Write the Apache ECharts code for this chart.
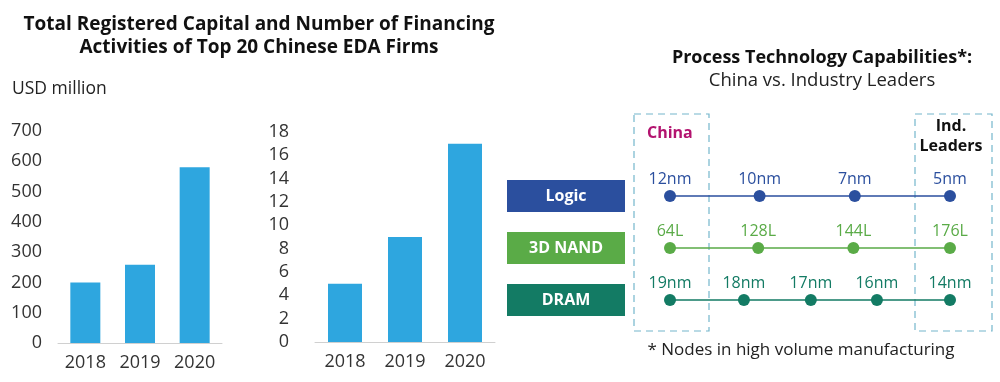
<!DOCTYPE html>
<html><head><meta charset="utf-8">
<script src="https://cdn.jsdelivr.net/npm/echarts@6/dist/echarts.min.js"></script>
<style>html,body{margin:0;padding:0;background:#fff}#c{width:1000px;height:382px}</style>
</head><body><div id="c"></div>
<script>
var years = ['2018', '2019', '2020'];
var capital = [200, 258, 580];
var financing = [5, 9, 17];
var techRows = ['Logic', '3D NAND', 'DRAM'];
var logicLabels = ['12nm', '10nm', '7nm', '5nm'];
var logicPos = [0, 0.32, 0.66, 1];
var nandLabels = ['64L', '128L', '144L', '176L'];
var nandPos = [0, 0.315, 0.655, 1];
var dramLabels = ['19nm', '18nm', '17nm', '16nm', '14nm'];
var dramPos = [0, 0.264, 0.503, 0.739, 1];

var FONT = 'Open Sans';
var BAR = '#2ea6df';
var rowColors = {'Logic': '#2b4f9e', '3D NAND': '#5aab47', 'DRAM': '#137b64'};
var labelColors = {'Logic': '#2b4f9e', '3D NAND': '#5aab47', 'DRAM': '#137b64'};

function rowData(pos, labels, row) {
  return pos.map(function (p, i) { return {value: [p, row], name: labels[i]}; });
}
function rowSeries(pos, labels, row) {
  return {
    type: 'line', xAxisIndex: 2, yAxisIndex: 2,
    data: rowData(pos, labels, row),
    symbol: 'circle', symbolSize: 12,
    lineStyle: {color: rowColors[row], width: 1.5},
    itemStyle: {color: rowColors[row]},
    label: {show: true, position: 'top', distance: 3, formatter: '{b}',
      color: labelColors[row], fontFamily: FONT, fontSize: 16},
    silent: true, animation: false, z: 3
  };
}

var chart = echarts.init(document.getElementById('c'));
var catAxisStyle = {
  axisLine: {lineStyle: {color: '#d0d0d0'}}, axisTick: {show: false},
  axisLabel: {color: '#333', fontFamily: FONT, fontSize: 18, margin: 11}
};
chart.setOption({
  animation: false,
  title: [
    {text: 'Total Registered Capital and Number of Financing\nActivities of Top 20 Chinese EDA Firms',
     left: 254, top: 8, textAlign: 'center',
     textStyle: {fontFamily: FONT, fontWeight: 'bold', fontSize: 19, lineHeight: 23, color: '#111'}},
    {text: 'USD million', left: 7, top: 75,
     textStyle: {fontFamily: FONT, fontWeight: 'normal', fontSize: 17.5, color: '#222'}},
    {text: 'Process Technology Capabilities*:', left: 817, top: 44, textAlign: 'center',
     textStyle: {fontFamily: FONT, fontWeight: 'bold', fontSize: 18, color: '#111'}},
    {text: 'China vs. Industry Leaders', left: 817, top: 66, textAlign: 'center',
     textStyle: {fontFamily: FONT, fontWeight: 'normal', fontSize: 18.5, color: '#222'}},
    {text: '* Nodes in high volume manufacturing', left: 796, top: 337, textAlign: 'center',
     textStyle: {fontFamily: FONT, fontWeight: 'normal', fontSize: 17, color: '#222'}}
  ],
  graphic: [
    {type: 'rect', shape: {x: 634, y: 114, width: 75, height: 217}, z: 1,
     style: {fill: 'none', stroke: '#74b6cc', lineWidth: 1.2, lineDash: [7, 5]}},
    {type: 'rect', shape: {x: 915, y: 114, width: 77, height: 217}, z: 1,
     style: {fill: 'none', stroke: '#74b6cc', lineWidth: 1.2, lineDash: [7, 5]}},
    {type: 'text', x: 647, y: 125, z: 5,
     style: {text: 'China', fill: '#b3136f', font: 'bold 16px "Open Sans"'}},
    {type: 'text', x: 951, y: 116, z: 5,
     style: {text: 'Ind.\nLeaders', fill: '#111', font: 'bold 16px "Open Sans"', textAlign: 'center', lineHeight: 20}}
  ],
  grid: [
    {left: 58, width: 164, top: 131, bottom: 39},
    {left: 315, width: 180, top: 132, bottom: 40},
    {left: 670, width: 280, top: 170, bottom: 56}
  ],
  xAxis: [
    Object.assign({type: 'category', gridIndex: 0, data: years}, catAxisStyle),
    Object.assign({type: 'category', gridIndex: 1, data: years}, catAxisStyle),
    {type: 'value', gridIndex: 2, min: 0, max: 1, show: false}
  ],
  yAxis: [
    {type: 'value', gridIndex: 0, min: 0, max: 700, interval: 100, splitLine: {show: false},
     axisLine: {show: false}, axisTick: {show: false},
     axisLabel: {color: '#333', fontFamily: FONT, fontSize: 18, margin: 16}},
    {type: 'value', gridIndex: 1, min: 0, max: 18, interval: 2, splitLine: {show: false},
     axisLine: {show: false}, axisTick: {show: false},
     axisLabel: {color: '#333', fontFamily: FONT, fontSize: 18, margin: 26}},
    {type: 'category', gridIndex: 2, data: techRows, inverse: true,
     axisLine: {show: false}, axisTick: {show: false}, splitLine: {show: false},
     axisLabel: {margin: 45, formatter: function (v) {
        var k = v === 'Logic' ? 'a' : (v === 'DRAM' ? 'c' : 'b');
        return '{' + k + '|' + v + '}';
      },
      rich: {
        a: {backgroundColor: rowColors['Logic'], color: '#fff', width: 118, height: 32, align: 'center', fontFamily: FONT, fontWeight: 'bold', fontSize: 16},
        b: {backgroundColor: rowColors['3D NAND'], color: '#fff', width: 118, height: 32, align: 'center', fontFamily: FONT, fontWeight: 'bold', fontSize: 16},
        c: {backgroundColor: rowColors['DRAM'], color: '#fff', width: 118, height: 32, align: 'center', fontFamily: FONT, fontWeight: 'bold', fontSize: 16}
      }}}
  ],
  series: [
    {type: 'bar', xAxisIndex: 0, yAxisIndex: 0, data: capital, barWidth: 30, itemStyle: {color: BAR}, silent: true},
    {type: 'bar', xAxisIndex: 1, yAxisIndex: 1, data: financing, barWidth: 34, itemStyle: {color: BAR}, silent: true},
    rowSeries(logicPos, logicLabels, 'Logic'),
    rowSeries(nandPos, nandLabels, '3D NAND'),
    rowSeries(dramPos, dramLabels, 'DRAM')
  ]
});
</script></body></html>
